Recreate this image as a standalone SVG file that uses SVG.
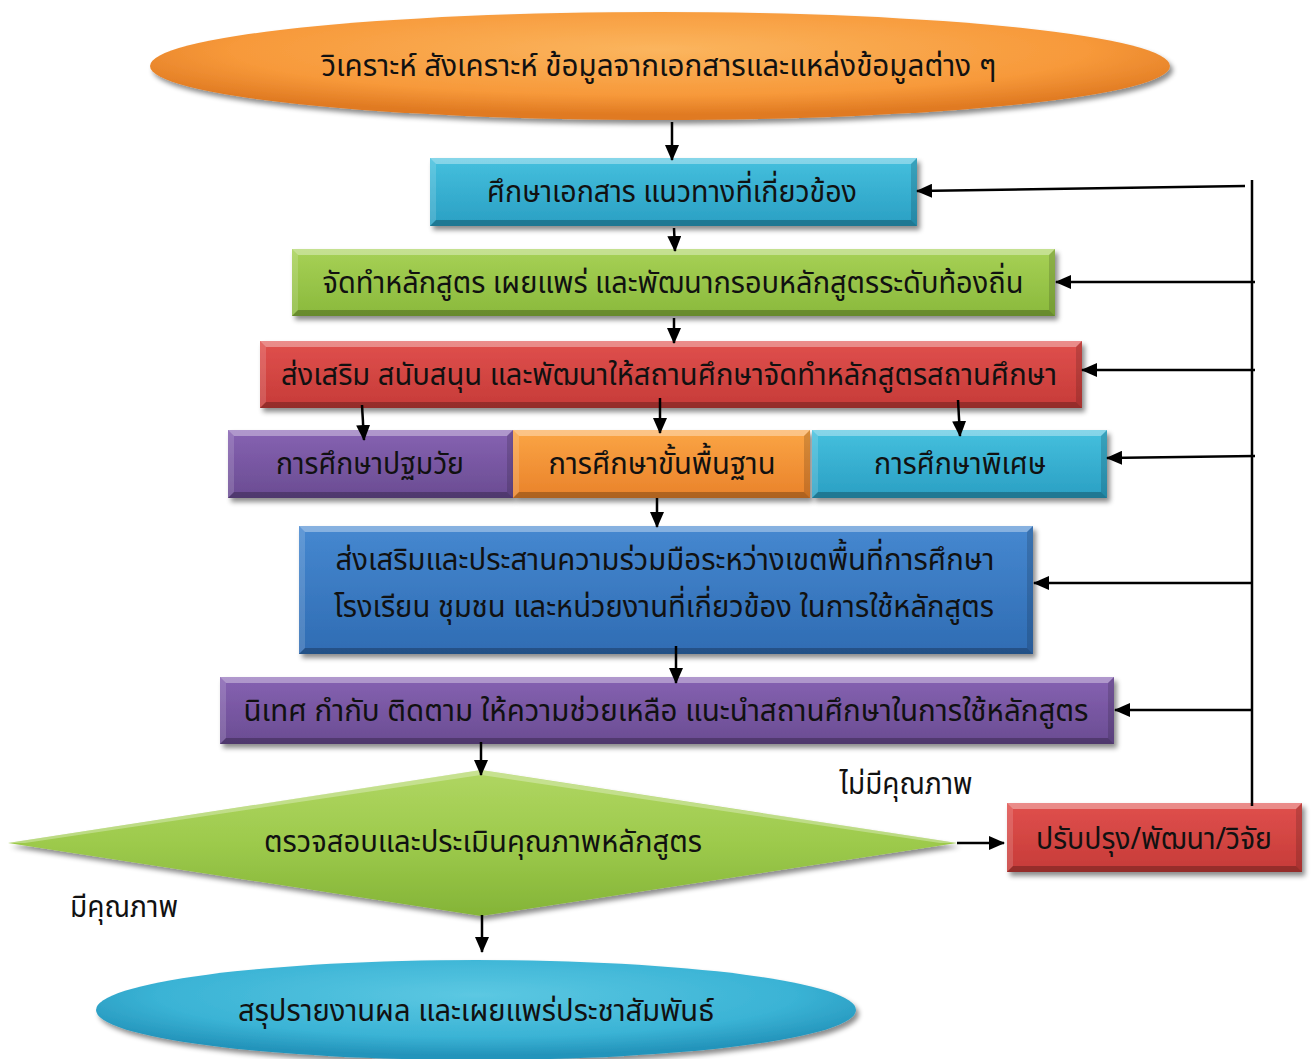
<svg xmlns="http://www.w3.org/2000/svg" width="1311" height="1059" viewBox="0 0 1311 1059">
<style>
text{font-family:"Noto Sans Thai","Noto Sans","DejaVu Sans",sans-serif;font-size:31px;fill:#111;text-anchor:middle;dominant-baseline:central}
.bt{fill:#fff;fill-opacity:.35}
.bl{fill:#fff;fill-opacity:.15}
.br{fill:#000;fill-opacity:.15}
.bb{fill:#000;fill-opacity:.25}
.c{stroke:#000;stroke-width:2.5;fill:none}
.a{marker-end:url(#ah)}
</style>
<defs>
<marker id="ah" markerUnits="userSpaceOnUse" markerWidth="16" markerHeight="14" refX="15" refY="7" orient="auto"><path d="M0,0 L16,7 L0,14 Z" fill="#000"/></marker>
<filter id="sh" x="-5%" y="-10%" width="115%" height="130%"><feDropShadow dx="3" dy="4" stdDeviation="2.5" flood-color="#000" flood-opacity=".45"/></filter>
<linearGradient id="gCy" x1="0" y1="0" x2="0" y2="1"><stop offset="0" stop-color="#45c0de"/><stop offset="1" stop-color="#2a9fc3"/></linearGradient>
<linearGradient id="gGr" x1="0" y1="0" x2="0" y2="1"><stop offset="0" stop-color="#a7d156"/><stop offset="1" stop-color="#8ab93c"/></linearGradient>
<linearGradient id="gRd" x1="0" y1="0" x2="0" y2="1"><stop offset="0" stop-color="#e0504d"/><stop offset="1" stop-color="#c63b38"/></linearGradient>
<linearGradient id="gPu" x1="0" y1="0" x2="0" y2="1"><stop offset="0" stop-color="#8662b2"/><stop offset="1" stop-color="#6a4c92"/></linearGradient>
<linearGradient id="gOr" x1="0" y1="0" x2="0" y2="1"><stop offset="0" stop-color="#fba545"/><stop offset="1" stop-color="#e9822a"/></linearGradient>
<linearGradient id="gBl" x1="0" y1="0" x2="0" y2="1"><stop offset="0" stop-color="#4688d0"/><stop offset="1" stop-color="#2f6cb3"/></linearGradient>
<radialGradient id="eOr" cx="0.5" cy="0.35" r="0.6"><stop offset="0" stop-color="#fbb55e"/><stop offset="0.7" stop-color="#f7993a"/><stop offset="1" stop-color="#e07a22"/></radialGradient>
<radialGradient id="eCy" cx="0.5" cy="0.35" r="0.6"><stop offset="0" stop-color="#5cc8e2"/><stop offset="0.7" stop-color="#3ab3d5"/><stop offset="1" stop-color="#2494bb"/></radialGradient>
<linearGradient id="dGr" x1="0" y1="0" x2="0" y2="1"><stop offset="0" stop-color="#b0d662"/><stop offset="0.5" stop-color="#9dca4c"/><stop offset="1" stop-color="#84b437"/></linearGradient>
</defs>

<g id="n-top">
<ellipse cx="660" cy="66" rx="510" ry="54" fill="url(#eOr)" filter="url(#sh)"/>
<text x="659" y="66" textLength="675" lengthAdjust="spacingAndGlyphs">วิเคราะห์ สังเคราะห์ ข้อมูลจากเอกสารและแหล่งข้อมูลต่าง ๆ</text>
</g>

<g id="n1">
<rect x="430" y="158" width="487" height="68" fill="url(#gCy)" filter="url(#sh)"/>
<polygon class="bt" points="430,158 917,158 911,164 436,164"/><polygon class="bl" points="430,158 436,164 436,220 430,226"/><polygon class="br" points="917,158 917,226 911,220 911,164"/><polygon class="bb" points="430,226 917,226 911,220 436,220"/>
<text x="672" y="192" textLength="370" lengthAdjust="spacingAndGlyphs">ศึกษาเอกสาร แนวทางที่เกี่ยวข้อง</text>
</g>

<g id="n2">
<rect x="292" y="249" width="763" height="67" fill="url(#gGr)" filter="url(#sh)"/>
<polygon class="bt" points="292,249 1055,249 1049,255 298,255"/><polygon class="bl" points="292,249 298,255 298,310 292,316"/><polygon class="br" points="1055,249 1055,316 1049,310 1049,255"/><polygon class="bb" points="292,316 1055,316 1049,310 298,310"/>
<text x="673" y="283" textLength="701" lengthAdjust="spacingAndGlyphs">จัดทำหลักสูตร เผยแพร่ และพัฒนากรอบหลักสูตรระดับท้องถิ่น</text>
</g>

<g id="n3">
<rect x="260" y="341" width="822" height="67" fill="url(#gRd)" filter="url(#sh)"/>
<polygon class="bt" points="260,341 1082,341 1076,347 266,347"/><polygon class="bl" points="260,341 266,347 266,402 260,408"/><polygon class="br" points="1082,341 1082,408 1076,402 1076,347"/><polygon class="bb" points="260,408 1082,408 1076,402 266,402"/>
<text x="669" y="375" textLength="776" lengthAdjust="spacingAndGlyphs">ส่งเสริม สนับสนุน และพัฒนาให้สถานศึกษาจัดทำหลักสูตรสถานศึกษา</text>
</g>

<g id="n4a">
<rect x="228" y="430" width="285" height="68" fill="url(#gPu)" filter="url(#sh)"/>
<polygon class="bt" points="228,430 513,430 507,436 234,436"/><polygon class="bl" points="228,430 234,436 234,492 228,498"/><polygon class="br" points="513,430 513,498 507,492 507,436"/><polygon class="bb" points="228,498 513,498 507,492 234,492"/>
<text x="370" y="464" textLength="188" lengthAdjust="spacingAndGlyphs">การศึกษาปฐมวัย</text>
</g>

<g id="n4b">
<rect x="513" y="430" width="297" height="68" fill="url(#gOr)" filter="url(#sh)"/>
<polygon class="bt" points="513,430 810,430 804,436 519,436"/><polygon class="bl" points="513,430 519,436 519,492 513,498"/><polygon class="br" points="810,430 810,498 804,492 804,436"/><polygon class="bb" points="513,498 810,498 804,492 519,492"/>
<text x="662" y="464" textLength="227" lengthAdjust="spacingAndGlyphs">การศึกษาขั้นพื้นฐาน</text>
</g>

<g id="n4c">
<rect x="812" y="430" width="295" height="68" fill="url(#gCy)" filter="url(#sh)"/>
<polygon class="bt" points="812,430 1107,430 1101,436 818,436"/><polygon class="bl" points="812,430 818,436 818,492 812,498"/><polygon class="br" points="1107,430 1107,498 1101,492 1101,436"/><polygon class="bb" points="812,498 1107,498 1101,492 818,492"/>
<text x="960" y="464" textLength="172" lengthAdjust="spacingAndGlyphs">การศึกษาพิเศษ</text>
</g>

<g id="n5">
<rect x="299" y="526" width="734" height="128" fill="url(#gBl)" filter="url(#sh)"/>
<polygon class="bt" points="299,526 1033,526 1027,532 305,532"/><polygon class="bl" points="299,526 305,532 305,648 299,654"/><polygon class="br" points="1033,526 1033,654 1027,648 1027,532"/><polygon class="bb" points="299,654 1033,654 1027,648 305,648"/>
<text x="665" y="560" textLength="659" lengthAdjust="spacingAndGlyphs">ส่งเสริมและประสานความร่วมมือระหว่างเขตพื้นที่การศึกษา</text>
<text x="664" y="607" textLength="660" lengthAdjust="spacingAndGlyphs">โรงเรียน ชุมชน และหน่วยงานที่เกี่ยวข้อง ในการใช้หลักสูตร</text>
</g>

<g id="n6">
<rect x="220" y="677" width="894" height="67" fill="url(#gPu)" filter="url(#sh)"/>
<polygon class="bt" points="220,677 1114,677 1108,683 226,683"/><polygon class="bl" points="220,677 226,683 226,738 220,744"/><polygon class="br" points="1114,677 1114,744 1108,738 1108,683"/><polygon class="bb" points="220,744 1114,744 1108,738 226,738"/>
<text x="666" y="711" textLength="845" lengthAdjust="spacingAndGlyphs">นิเทศ กำกับ ติดตาม ให้ความช่วยเหลือ แนะนำสถานศึกษาในการใช้หลักสูตร</text>
</g>

<g id="n7">
<polygon points="8,843 481,770 957,843 481,916" fill="url(#dGr)" filter="url(#sh)"/>
<polygon points="8,843 481,770 957,843 940,843 481,775 25,843" fill="#fff" fill-opacity=".3"/>
<text x="483" y="842" textLength="438" lengthAdjust="spacingAndGlyphs">ตรวจสอบและประเมินคุณภาพหลักสูตร</text>
</g>

<g id="n8">
<rect x="1007" y="803" width="295" height="69" fill="url(#gRd)" filter="url(#sh)"/>
<polygon class="bt" points="1007,803 1302,803 1296,809 1013,809"/><polygon class="bl" points="1007,803 1013,809 1013,866 1007,872"/><polygon class="br" points="1302,803 1302,872 1296,866 1296,809"/><polygon class="bb" points="1007,872 1302,872 1296,866 1013,866"/>
<text x="1154" y="839" textLength="236" lengthAdjust="spacingAndGlyphs">ปรับปรุง/พัฒนา/วิจัย</text>
</g>

<g id="labels">
<text x="906" y="784" textLength="133" lengthAdjust="spacingAndGlyphs">ไม่มีคุณภาพ</text>
<text x="124" y="907" textLength="108" lengthAdjust="spacingAndGlyphs">มีคุณภาพ</text>
</g>

<g id="n9">
<ellipse cx="476" cy="1010" rx="380" ry="50" fill="url(#eCy)" filter="url(#sh)"/>
<text x="476" y="1011" textLength="476" lengthAdjust="spacingAndGlyphs">สรุปรายงานผล และเผยแพร่ประชาสัมพันธ์</text>
</g>

<g id="connectors">
<path class="c a" d="M672,122 L672,160"/>
<path class="c a" d="M674,228 L675,251"/>
<path class="c a" d="M674,318 L674,343"/>
<path class="c a" d="M362,405 L364,440"/>
<path class="c a" d="M660,398 L660,433"/>
<path class="c a" d="M958,400 L960,436"/>
<path class="c a" d="M657,498 L657,527"/>
<path class="c a" d="M676,646 L676,683"/>
<path class="c a" d="M481,742 L481,775"/>
<path class="c a" d="M957,843 L1004,843"/>
<path class="c a" d="M482,915 L482,952"/>
<path class="c" d="M1252,180 L1252,806"/>
<path class="c a" d="M1245,186 L917,191"/>
<path class="c a" d="M1255,282 L1056,282"/>
<path class="c a" d="M1255,370 L1082,370"/>
<path class="c a" d="M1255,456 L1107,458"/>
<path class="c a" d="M1252,583 L1034,583"/>
<path class="c a" d="M1252,710 L1115,710"/>
</g>
</svg>
